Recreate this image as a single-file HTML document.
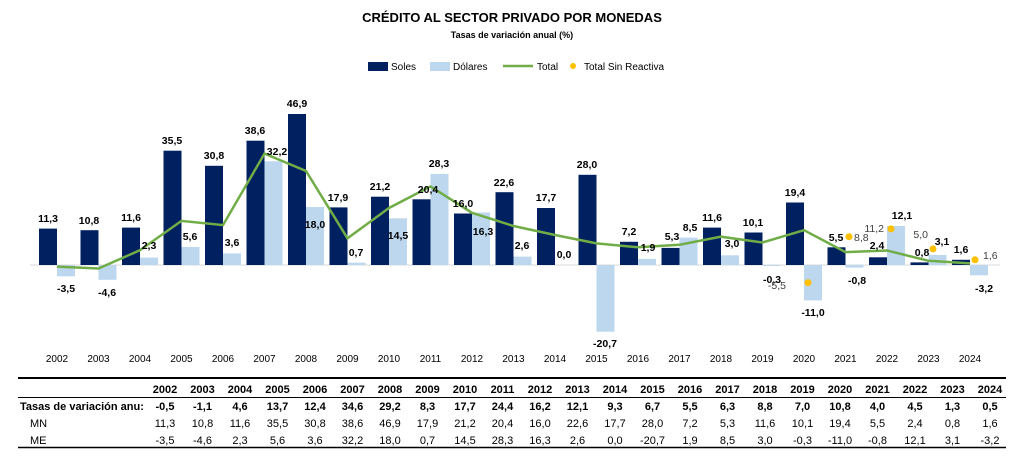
<!DOCTYPE html><html><head><meta charset="utf-8"><style>body{margin:0;background:#fff}svg{display:block;font-family:"Liberation Sans",sans-serif}</style></head><body>
<svg width="1024" height="470" viewBox="0 0 1024 470">
<text x="512" y="22" text-anchor="middle" font-size="13" font-weight="bold">CRÉDITO AL SECTOR PRIVADO POR MONEDAS</text>
<text x="512" y="38" text-anchor="middle" font-size="9" font-weight="bold">Tasas de variación anual (%)</text>
<g font-size="10">
<rect x="368" y="62" width="20" height="9" fill="#002060"/><text x="391" y="70">Soles</text>
<rect x="430" y="62" width="20" height="9" fill="#BDD7EE"/><text x="453" y="70">Dólares</text>
<line x1="503" y1="66" x2="533" y2="66" stroke="#70AD47" stroke-width="2.5"/><text x="537" y="70">Total</text>
<circle cx="573" cy="66" r="3" fill="#FFC000"/><text x="584" y="70">Total Sin Reactiva</text>
</g>
<line x1="30" y1="265" x2="1000" y2="265" stroke="#d9d9d9"/>
<g fill="#002060">
<rect x="39" y="228.6" width="18" height="36.4"/><rect x="80.5" y="230.2" width="18" height="34.8"/><rect x="122" y="227.6" width="18" height="37.4"/><rect x="163.5" y="150.7" width="18" height="114.3"/><rect x="205" y="165.8" width="18" height="99.2"/><rect x="246.5" y="140.7" width="18" height="124.3"/><rect x="288" y="114" width="18" height="151"/><rect x="329.5" y="207.4" width="18" height="57.6"/><rect x="371" y="196.7" width="18" height="68.3"/><rect x="412.5" y="199.3" width="18" height="65.7"/><rect x="454" y="213.5" width="18" height="51.5"/><rect x="495.5" y="192.2" width="18" height="72.8"/><rect x="537" y="208" width="18" height="57"/><rect x="578.5" y="174.8" width="18" height="90.2"/><rect x="620" y="241.8" width="18" height="23.2"/><rect x="661.5" y="247.9" width="18" height="17.1"/><rect x="703" y="227.6" width="18" height="37.4"/><rect x="744.5" y="232.5" width="18" height="32.5"/><rect x="786" y="202.5" width="18" height="62.5"/><rect x="827.5" y="247.3" width="18" height="17.7"/><rect x="869" y="257.3" width="18" height="7.7"/><rect x="910.5" y="262.4" width="18" height="2.6"/><rect x="952" y="259.8" width="18" height="5.2"/>
</g>
<g fill="#BDD7EE">
<rect x="57" y="265" width="18" height="11.3"/><rect x="98.5" y="265" width="18" height="14.8"/><rect x="140" y="257.6" width="18" height="7.4"/><rect x="181.5" y="247" width="18" height="18"/><rect x="223" y="253.4" width="18" height="11.6"/><rect x="264.5" y="161.3" width="18" height="103.7"/><rect x="306" y="207" width="18" height="58"/><rect x="347.5" y="262.7" width="18" height="2.3"/><rect x="389" y="218.3" width="18" height="46.7"/><rect x="430.5" y="173.9" width="18" height="91.1"/><rect x="472" y="212.5" width="18" height="52.5"/><rect x="513.5" y="256.6" width="18" height="8.4"/><rect x="596.5" y="265" width="18" height="66.7"/><rect x="638" y="258.9" width="18" height="6.1"/><rect x="679.5" y="237.6" width="18" height="27.4"/><rect x="721" y="255.3" width="18" height="9.7"/><rect x="762.5" y="265" width="18" height="1"/><rect x="804" y="265" width="18" height="35.4"/><rect x="845.5" y="265" width="18" height="2.6"/><rect x="887" y="226" width="18" height="39"/><rect x="928.5" y="255" width="18" height="10"/><rect x="970" y="265" width="18" height="10.3"/>
</g>
<polyline fill="none" stroke="#70AD47" stroke-width="2.5" points="57,266.6 98.5,268.5 140,250.2 181.5,220.9 223,225.1 264.5,153.6 306,171 347.5,238.3 389,208 430.5,186.4 472,212.8 513.5,226 555,235 596.5,243.4 638,247.3 679.5,244.7 721,236.7 762.5,242.5 804,230.2 845.5,252.1 887,250.5 928.5,260.8 970,263.4"/>
<g fill="#FFC000"><circle cx="808" cy="282.7" r="3.5"/><circle cx="849" cy="236.7" r="3.5"/><circle cx="891" cy="228.9" r="3.5"/><circle cx="933" cy="248.9" r="3.5"/><circle cx="975" cy="259.8" r="3.5"/></g>
<g font-size="10.5" font-weight="bold" text-anchor="middle">
<text x="48" y="222">11,3</text><text x="89" y="224">10,8</text><text x="131" y="221">11,6</text><text x="172" y="144">35,5</text><text x="214" y="159">30,8</text><text x="255" y="134">38,6</text><text x="297" y="107">46,9</text><text x="338" y="201">17,9</text><text x="380" y="190">21,2</text><text x="428" y="193">20,4</text><text x="463" y="207">16,0</text><text x="504" y="186">22,6</text><text x="546" y="201">17,7</text><text x="587" y="168">28,0</text><text x="629" y="235">7,2</text><text x="672" y="240">5,3</text><text x="712" y="221">11,6</text><text x="753" y="226">10,1</text><text x="795" y="196">19,4</text><text x="836" y="241">5,5</text><text x="877" y="249">2,4</text><text x="922" y="256">0,8</text><text x="961" y="253">1,6</text>
<text x="66" y="292">-3,5</text><text x="107" y="296">-4,6</text><text x="149" y="249">2,3</text><text x="190" y="240">5,6</text><text x="232" y="246">3,6</text><text x="277" y="155">32,2</text><text x="315" y="228">18,0</text><text x="356" y="256">0,7</text><text x="398" y="239">14,5</text><text x="439" y="167">28,3</text><text x="483" y="235">16,3</text><text x="522" y="249">2,6</text><text x="564" y="258">0,0</text><text x="605" y="347">-20,7</text><text x="648" y="251">1,9</text><text x="690" y="231">8,5</text><text x="732" y="247">3,0</text><text x="772" y="283">-0,3</text><text x="813" y="316">-11,0</text><text x="857" y="284">-0,8</text><text x="902" y="219">12,1</text><text x="942" y="245">3,1</text><text x="984" y="292">-3,2</text>
</g>
<g font-size="10.5" fill="#404040">
<text x="786" y="289" text-anchor="end">-5,5</text><text x="854" y="241">8,8</text><text x="884" y="232" text-anchor="end">11,2</text><text x="928" y="238" text-anchor="end">5,0</text><text x="983" y="259">1,6</text>
</g>
<g font-size="10" text-anchor="middle">
<text x="57" y="362">2002</text><text x="98.5" y="362">2003</text><text x="140" y="362">2004</text><text x="181.5" y="362">2005</text><text x="223" y="362">2006</text><text x="264.5" y="362">2007</text><text x="306" y="362">2008</text><text x="347.5" y="362">2009</text><text x="389" y="362">2010</text><text x="430.5" y="362">2011</text><text x="472" y="362">2012</text><text x="513.5" y="362">2013</text><text x="555" y="362">2014</text><text x="596.5" y="362">2015</text><text x="638" y="362">2016</text><text x="679.5" y="362">2017</text><text x="721" y="362">2018</text><text x="762.5" y="362">2019</text><text x="804" y="362">2020</text><text x="845.5" y="362">2021</text><text x="887" y="362">2022</text><text x="928.5" y="362">2023</text><text x="970" y="362">2024</text>
</g>
<line x1="18" y1="378" x2="1006" y2="378" stroke="#000" stroke-width="2"/>
<line x1="18" y1="397.5" x2="1006" y2="397.5" stroke="#000"/>
<line x1="18" y1="447.5" x2="1006" y2="447.5" stroke="#000" stroke-width="1.5"/>
<g font-size="11" text-anchor="middle">
<g font-weight="bold">
<text x="165" y="393">2002</text><text x="202.5" y="393">2003</text><text x="240" y="393">2004</text><text x="277.5" y="393">2005</text><text x="315" y="393">2006</text><text x="352.5" y="393">2007</text><text x="390" y="393">2008</text><text x="427.5" y="393">2009</text><text x="465" y="393">2010</text><text x="502.5" y="393">2011</text><text x="540" y="393">2012</text><text x="577.5" y="393">2013</text><text x="615" y="393">2014</text><text x="652.5" y="393">2015</text><text x="690" y="393">2016</text><text x="727.5" y="393">2017</text><text x="765" y="393">2018</text><text x="802.5" y="393">2019</text><text x="840" y="393">2020</text><text x="877.5" y="393">2021</text><text x="915" y="393">2022</text><text x="952.5" y="393">2023</text><text x="990" y="393">2024</text>
<text x="165" y="410">-0,5</text><text x="202.5" y="410">-1,1</text><text x="240" y="410">4,6</text><text x="277.5" y="410">13,7</text><text x="315" y="410">12,4</text><text x="352.5" y="410">34,6</text><text x="390" y="410">29,2</text><text x="427.5" y="410">8,3</text><text x="465" y="410">17,7</text><text x="502.5" y="410">24,4</text><text x="540" y="410">16,2</text><text x="577.5" y="410">12,1</text><text x="615" y="410">9,3</text><text x="652.5" y="410">6,7</text><text x="690" y="410">5,5</text><text x="727.5" y="410">6,3</text><text x="765" y="410">8,8</text><text x="802.5" y="410">7,0</text><text x="840" y="410">10,8</text><text x="877.5" y="410">4,0</text><text x="915" y="410">4,5</text><text x="952.5" y="410">1,3</text><text x="990" y="410">0,5</text>
</g>
<text x="165" y="427">11,3</text><text x="202.5" y="427">10,8</text><text x="240" y="427">11,6</text><text x="277.5" y="427">35,5</text><text x="315" y="427">30,8</text><text x="352.5" y="427">38,6</text><text x="390" y="427">46,9</text><text x="427.5" y="427">17,9</text><text x="465" y="427">21,2</text><text x="502.5" y="427">20,4</text><text x="540" y="427">16,0</text><text x="577.5" y="427">22,6</text><text x="615" y="427">17,7</text><text x="652.5" y="427">28,0</text><text x="690" y="427">7,2</text><text x="727.5" y="427">5,3</text><text x="765" y="427">11,6</text><text x="802.5" y="427">10,1</text><text x="840" y="427">19,4</text><text x="877.5" y="427">5,5</text><text x="915" y="427">2,4</text><text x="952.5" y="427">0,8</text><text x="990" y="427">1,6</text>
<text x="165" y="444">-3,5</text><text x="202.5" y="444">-4,6</text><text x="240" y="444">2,3</text><text x="277.5" y="444">5,6</text><text x="315" y="444">3,6</text><text x="352.5" y="444">32,2</text><text x="390" y="444">18,0</text><text x="427.5" y="444">0,7</text><text x="465" y="444">14,5</text><text x="502.5" y="444">28,3</text><text x="540" y="444">16,3</text><text x="577.5" y="444">2,6</text><text x="615" y="444">0,0</text><text x="652.5" y="444">-20,7</text><text x="690" y="444">1,9</text><text x="727.5" y="444">8,5</text><text x="765" y="444">3,0</text><text x="802.5" y="444">-0,3</text><text x="840" y="444">-11,0</text><text x="877.5" y="444">-0,8</text><text x="915" y="444">12,1</text><text x="952.5" y="444">3,1</text><text x="990" y="444">-3,2</text>
</g>
<g font-size="11">
<text x="20" y="410" font-weight="bold">Tasas de variación anu:</text>
<text x="30" y="427">MN</text><text x="30" y="444">ME</text>
</g>
</svg>
</body></html>
